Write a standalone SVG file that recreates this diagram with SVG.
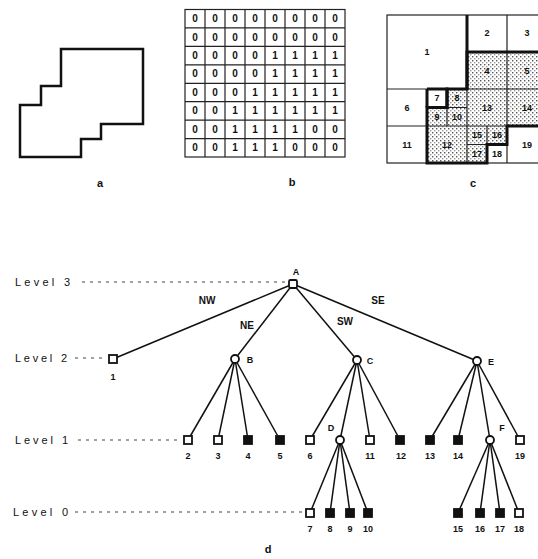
<svg xmlns="http://www.w3.org/2000/svg" width="538" height="559" viewBox="0 0 538 559">
<defs>
<pattern id="stip" width="4" height="4" patternUnits="userSpaceOnUse">
<rect width="4" height="4" fill="#fff"/>
<rect x="0" y="0" width="1.4" height="1.4" fill="#555"/>
<rect x="2" y="2" width="1.4" height="1.4" fill="#999"/>
</pattern>
</defs>
<style>
text{font-family:"Liberation Sans",Arial,sans-serif;fill:#111}
.cap{font-size:11px;font-weight:bold;text-anchor:middle}
.lv{font-size:11px}
.n{font-size:9px;font-weight:bold;text-anchor:middle}
.d{font-size:10px;font-weight:bold;text-anchor:middle}
.el{font-size:10px;font-weight:bold;text-anchor:middle}
.lvl{stroke:#444;stroke-width:1.2;stroke-dasharray:3 5;fill:none}
.edge{stroke:#111;stroke-width:1.5;fill:none}
.w{fill:#fff;stroke:#111;stroke-width:1.8}
.b{fill:#111;stroke:#111;stroke-width:1.8}
.grid{stroke:#222;stroke-width:1.2;fill:none}
.thick{stroke:#111;stroke-width:3;fill:none}
.blk{fill:url(#stip);stroke:none}
</style>

<!-- Panel a -->
<g id="panel-a">
<polygon points="62,49 143,49 143,124 101,124 101,139 81,139 81,157 20,157 20,105 41,105 41,86 61,86 61,49" fill="#fff" stroke="#111" stroke-width="2.5"/>
<text class="cap" x="100" y="187">a</text>
</g>

<!-- Panel b -->
<g id="panel-b">
<rect x="185" y="9.5" width="160" height="147.5" class="grid" stroke-width="2"/>
<path class="grid" d="M205,9.5V157M225,9.5V157M245,9.5V157M265,9.5V157M285,9.5V157M305,9.5V157M325,9.5V157"/>
<path class="grid" d="M185,27.9H345M185,46.4H345M185,64.8H345M185,83.3H345M185,101.7H345M185,120.1H345M185,138.6H345"/>
<g class="d">
<text x="195" y="22">0</text><text x="215" y="22">0</text><text x="235" y="22">0</text><text x="255" y="22">0</text><text x="275" y="22">0</text><text x="295" y="22">0</text><text x="315" y="22">0</text><text x="335" y="22">0</text>
<text x="195" y="40.5">0</text><text x="215" y="40.5">0</text><text x="235" y="40.5">0</text><text x="255" y="40.5">0</text><text x="275" y="40.5">0</text><text x="295" y="40.5">0</text><text x="315" y="40.5">0</text><text x="335" y="40.5">0</text>
<text x="195" y="59">0</text><text x="215" y="59">0</text><text x="235" y="59">0</text><text x="255" y="59">0</text><text x="275" y="59">1</text><text x="295" y="59">1</text><text x="315" y="59">1</text><text x="335" y="59">1</text>
<text x="195" y="77.4">0</text><text x="215" y="77.4">0</text><text x="235" y="77.4">0</text><text x="255" y="77.4">0</text><text x="275" y="77.4">1</text><text x="295" y="77.4">1</text><text x="315" y="77.4">1</text><text x="335" y="77.4">1</text>
<text x="195" y="95.9">0</text><text x="215" y="95.9">0</text><text x="235" y="95.9">0</text><text x="255" y="95.9">1</text><text x="275" y="95.9">1</text><text x="295" y="95.9">1</text><text x="315" y="95.9">1</text><text x="335" y="95.9">1</text>
<text x="195" y="114.3">0</text><text x="215" y="114.3">0</text><text x="235" y="114.3">1</text><text x="255" y="114.3">1</text><text x="275" y="114.3">1</text><text x="295" y="114.3">1</text><text x="315" y="114.3">1</text><text x="335" y="114.3">1</text>
<text x="195" y="132.7">0</text><text x="215" y="132.7">0</text><text x="235" y="132.7">1</text><text x="255" y="132.7">1</text><text x="275" y="132.7">1</text><text x="295" y="132.7">1</text><text x="315" y="132.7">0</text><text x="335" y="132.7">0</text>
<text x="195" y="151.2">0</text><text x="215" y="151.2">0</text><text x="235" y="151.2">1</text><text x="255" y="151.2">1</text><text x="275" y="151.2">1</text><text x="295" y="151.2">0</text><text x="315" y="151.2">0</text><text x="335" y="151.2">0</text>
</g>
<text class="cap" x="292" y="186">b</text>
</g>

<!-- Panel c -->
<g id="panel-c">
<rect class="blk" x="467" y="52" width="80" height="37"/>
<rect class="blk" x="447" y="89" width="20" height="18.5"/>
<rect class="blk" x="427" y="107.5" width="40" height="18.5"/>
<rect class="blk" x="427" y="126" width="40" height="37"/>
<rect class="blk" x="467" y="89" width="80" height="37"/>
<rect class="blk" x="467" y="126" width="40" height="18.5"/>
<rect class="blk" x="467" y="144.5" width="20" height="18.5"/>
<rect x="387" y="15" width="160" height="148" class="grid" stroke-width="1.6"/>
<path class="grid" d="M467,15V163M387,89H547M507,15V89M467,52H547M387,126H427M427,89V163M447,89V126M427,107.5H467M427,126H467M507,89V163M467,126H547M487,126V163M467,144.5H507"/>
<polygon class="thick" points="467,52 547,52 547,126 507,126 507,144.5 487,144.5 487,163 427,163 427,107.5 447,107.5 447,89 467,89"/>
<path class="thick" d="M467,15V89M427,89H447V107.5M427,89V107.5"/>
<g class="n">
<text x="427" y="55">1</text>
<text x="487" y="36">2</text>
<text x="527" y="36">3</text>
<text x="487" y="73.5">4</text>
<text x="527" y="73.5">5</text>
<text x="407" y="110.5">6</text>
<text x="437" y="101">7</text>
<text x="457" y="101">8</text>
<text x="437" y="119.5">9</text>
<text x="457" y="119.5">10</text>
<text x="407" y="147.5">11</text>
<text x="447" y="147.5">12</text>
<text x="487" y="110.5">13</text>
<text x="527" y="110.5">14</text>
<text x="477" y="138">15</text>
<text x="497" y="138">16</text>
<text x="477" y="156.5">17</text>
<text x="497" y="156.5">18</text>
<text x="527" y="147.5">19</text>
</g>
<text class="cap" x="473" y="187">c</text>
</g>

<!-- Level guides -->
<g id="levels">
<text class="lv" x="15" y="286" textLength="55" lengthAdjust="spacing">Level 3</text>
<line class="lvl" x1="82" y1="282" x2="287" y2="282"/>
<text class="lv" x="15" y="362" textLength="52" lengthAdjust="spacing">Level 2</text>
<line class="lvl" x1="75" y1="358" x2="102" y2="358"/>
<text class="lv" x="15" y="444" textLength="53" lengthAdjust="spacing">Level 1</text>
<line class="lvl" x1="78" y1="440" x2="180" y2="440"/>
<text class="lv" x="13" y="516" textLength="55" lengthAdjust="spacing">Level 0</text>
<line class="lvl" x1="75" y1="512" x2="303" y2="512"/>
</g>

<!-- Connectors -->
<g id="connectors" class="edge">
<line x1="293" y1="284" x2="113" y2="359"/>
<line x1="293" y1="284" x2="235" y2="359"/>
<line x1="293" y1="284" x2="357" y2="360"/>
<line x1="293" y1="284" x2="477" y2="361"/>
<line x1="235" y1="359" x2="188" y2="440"/>
<line x1="235" y1="359" x2="218" y2="440"/>
<line x1="235" y1="359" x2="248" y2="440"/>
<line x1="235" y1="359" x2="280" y2="440"/>
<line x1="357" y1="360" x2="310" y2="440"/>
<line x1="357" y1="360" x2="340" y2="440"/>
<line x1="357" y1="360" x2="370" y2="440"/>
<line x1="357" y1="360" x2="400" y2="440"/>
<line x1="477" y1="361" x2="430" y2="440"/>
<line x1="477" y1="361" x2="458" y2="440"/>
<line x1="477" y1="361" x2="490" y2="440"/>
<line x1="477" y1="361" x2="520" y2="440"/>
<line x1="340" y1="440" x2="310" y2="513"/>
<line x1="340" y1="440" x2="330" y2="513"/>
<line x1="340" y1="440" x2="350" y2="513"/>
<line x1="340" y1="440" x2="368" y2="513"/>
<line x1="490" y1="440" x2="458" y2="513"/>
<line x1="490" y1="440" x2="480" y2="513"/>
<line x1="490" y1="440" x2="500" y2="513"/>
<line x1="490" y1="440" x2="519" y2="513"/>
</g>
<g id="edge-labels" class="el">
<text x="207" y="304">NW</text>
<text x="247" y="329">NE</text>
<text x="345" y="325">SW</text>
<text x="378" y="304">SE</text>
</g>

<!-- Nodes -->
<g id="node-A"><rect class="w" x="289" y="280" width="8" height="8" rx="1.5"/><text class="n" x="296" y="275">A</text></g>
<g id="node-1"><rect class="w" x="109" y="355" width="8" height="8"/><text class="n" x="113" y="380">1</text></g>
<g id="node-B"><circle class="w" cx="235" cy="359" r="4"/><text class="n" x="250" y="363">B</text></g>
<g id="node-C"><circle class="w" cx="357" cy="360" r="4"/><text class="n" x="370" y="364">C</text></g>
<g id="node-E"><circle class="w" cx="477" cy="361" r="4"/><text class="n" x="491" y="365">E</text></g>

<g id="node-2"><rect class="w" x="184" y="436" width="8" height="8"/><text class="n" x="188" y="459">2</text></g>
<g id="node-3"><rect class="w" x="214" y="436" width="8" height="8"/><text class="n" x="218" y="459">3</text></g>
<g id="node-4"><rect class="b" x="244" y="436" width="8" height="8"/><text class="n" x="248" y="459">4</text></g>
<g id="node-5"><rect class="b" x="276" y="436" width="8" height="8"/><text class="n" x="280" y="459">5</text></g>
<g id="node-6"><rect class="w" x="306" y="436" width="8" height="8"/><text class="n" x="310" y="459">6</text></g>
<g id="node-D"><circle class="w" cx="340" cy="440" r="4"/><text class="n" x="331" y="431">D</text></g>
<g id="node-11"><rect class="w" x="366" y="436" width="8" height="8"/><text class="n" x="370" y="459">11</text></g>
<g id="node-12"><rect class="b" x="396" y="436" width="8" height="8"/><text class="n" x="401" y="459">12</text></g>
<g id="node-13"><rect class="b" x="426" y="436" width="8" height="8"/><text class="n" x="430" y="459">13</text></g>
<g id="node-14"><rect class="b" x="454" y="436" width="8" height="8"/><text class="n" x="458" y="459">14</text></g>
<g id="node-F"><circle class="w" cx="490" cy="440" r="4"/><text class="n" x="502" y="431">F</text></g>
<g id="node-19"><rect class="w" x="516" y="436" width="8" height="8"/><text class="n" x="520" y="459">19</text></g>

<g id="node-7"><rect class="w" x="306" y="509" width="8" height="8"/><text class="n" x="310" y="532">7</text></g>
<g id="node-8"><rect class="b" x="326" y="509" width="8" height="8"/><text class="n" x="330" y="532">8</text></g>
<g id="node-9"><rect class="b" x="346" y="509" width="8" height="8"/><text class="n" x="350" y="532">9</text></g>
<g id="node-10"><rect class="b" x="364" y="509" width="8" height="8"/><text class="n" x="368" y="532">10</text></g>
<g id="node-15"><rect class="b" x="454" y="509" width="8" height="8"/><text class="n" x="458" y="532">15</text></g>
<g id="node-16"><rect class="b" x="476" y="509" width="8" height="8"/><text class="n" x="480" y="532">16</text></g>
<g id="node-17"><rect class="b" x="496" y="509" width="8" height="8"/><text class="n" x="500" y="532">17</text></g>
<g id="node-18"><rect class="w" x="515" y="509" width="8" height="8"/><text class="n" x="519" y="532">18</text></g>

<text class="cap" x="268" y="553">d</text>
</svg>
